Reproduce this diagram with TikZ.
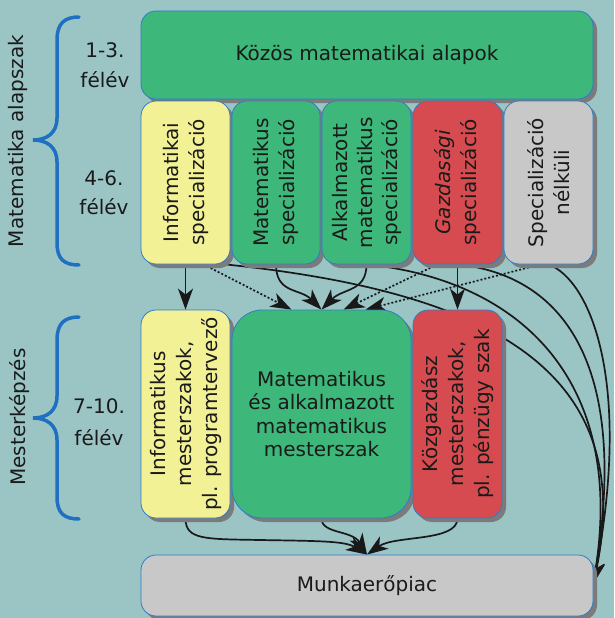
\documentclass[tikz,border=0pt]{standalone}
\usepackage{fontspec}
\setmainfont{DejaVu Sans}
\usetikzlibrary{arrows.meta,shadows}
\definecolor{bgcol}{HTML}{9BC4C5}
\definecolor{cgreen}{HTML}{3DB87A}
\definecolor{cyellow}{HTML}{F3F195}
\definecolor{cred}{HTML}{D64B4F}
\definecolor{cgray}{HTML}{C8C8C8}
\definecolor{shadowgray}{HTML}{7B7B7B}
\definecolor{edgeblue}{HTML}{2F7CC8}
\definecolor{braceblue}{HTML}{1F70C0}
\definecolor{textcol}{HTML}{1A1A1A}
\pgfdeclarelayer{back}
\pgfdeclarelayer{bg}
\pgfsetlayers{back,bg,main}
\begin{document}
\begin{tikzpicture}[x=1pt,y=1pt,
  box/.style={draw=edgeblue, line width=0.8pt, rounded corners=15pt, inner sep=0pt,
    drop shadow={shadow xshift=4pt, shadow yshift=-4pt, fill=shadowgray, opacity=1},
    text=textcol, font=\fontsize{20}{23.5}\selectfont, align=center},
  txt/.style={text=textcol, font=\fontsize{20}{26}\selectfont, align=center, inner sep=0pt},
  conn/.style={line width=1.7pt, draw=black!90, -{Stealth[length=21pt,width=15pt,inset=6pt]}},
  dotconn/.style={conn, dash pattern=on 2pt off 2pt},
  bracepath/.style={draw=braceblue, line width=3.5pt, line cap=round}]
\begin{pgfonlayer}{back}
\fill[bgcol] (0,0) rectangle (614,-618);
\end{pgfonlayer}
\useasboundingbox (0,0) rectangle (614,-618);

% top box
\node[box, fill=cgreen, minimum width=452pt, minimum height=88pt] (kozos) at (367,-55) {Közös matematikai alapok};

% specialisations
\node[box, fill=cyellow, minimum width=89pt, minimum height=163pt] (s1) at (185.5,-182.5) {};
\node[box, fill=cgreen, minimum width=88pt, minimum height=163pt] (s2) at (276,-182.5) {};
\node[box, fill=cgreen, minimum width=89pt, minimum height=163pt] (s3) at (366.5,-182.5) {};
\node[box, fill=cred, minimum width=89pt, minimum height=163pt] (s4) at (457.5,-182.5) {};
\node[box, fill=cgray, minimum width=89pt, minimum height=163pt] (s5) at (548.5,-182.5) {};
\node[txt, rotate=90] (s1t) at (s1) {Informatikai\\specializáció};
\node[txt, rotate=90] (s2t) at (s2) {Matematikus\\specializáció};
\node[txt, rotate=90, font=\fontsize{20}{25}\selectfont] (s3t) at (s3) {Alkalmazott\\matematikus\\specializáció};
\node[txt, rotate=90] (s4t) at (s4) {{\itshape Gazdasági}\\specializáció};
\node[txt, rotate=90] (s5t) at (s5) {Specializáció\\nélküli};

% master programmes
\node[box, fill=cyellow, minimum width=89pt, minimum height=208pt] (m1) at (185.5,-414) {};
\node[box, fill=cgreen, rounded corners=30pt, minimum width=179pt, minimum height=208pt] (m2) at (321.5,-414) {Matematikus\\és alkalmazott\\matematikus\\mesterszak};
\node[box, fill=cred, minimum width=89pt, minimum height=208pt] (m3) at (457.5,-414) {};
\node[txt, rotate=90] (m1t) at (m1) {Informatikus\\mesterszakok,\\pl. programtervező};
\node[txt, rotate=90] (m3t) at (m3) {Közgazdász\\mesterszakok,\\pl. pénzügy szak};

% labour market
\node[box, fill=cgray, minimum width=452pt, minimum height=61pt] (piac) at (367,-585.5) {Munkaerőpiac};

% left labels
\node[txt, anchor=base] (l1a) at (105,-57) {1-3.};
\node[txt, anchor=base] (l1b) at (105,-88) {félév};
\node[txt, anchor=base] (l2a) at (104,-185) {4-6.};
\node[txt, anchor=base] (l2b) at (104,-214) {félév};
\node[txt, anchor=base] (l3a) at (99,-413) {7-10.};
\node[txt, anchor=base] (l3b) at (99,-445) {félév};
\node[txt, rotate=90] (alap) at (18,-141) {Matematika alapszak};
\node[txt, rotate=90] (mester) at (20,-417) {Mesterképzés};

% braces
\draw[bracepath] (79,-17) .. controls (64,-17) and (57,-24) .. (57,-40) -- (57,-118)
  .. controls (57,-133) and (47,-140) .. (33,-140)
  .. controls (47,-140) and (57,-147) .. (57,-162) -- (57,-243)
  .. controls (57,-259) and (64,-265) .. (79,-265);
\draw[bracepath] (79,-317) .. controls (64,-317) and (57,-324) .. (57,-340) -- (57,-396)
  .. controls (57,-411) and (47,-418) .. (33,-418)
  .. controls (47,-418) and (57,-425) .. (57,-440) -- (57,-497)
  .. controls (57,-513) and (64,-519) .. (79,-519);

% connectors
\begin{pgfonlayer}{bg}
\draw[conn] (s1.south) -- (m1.north);
\draw[dotconn] ([xshift=18pt]s1.south) -- ([xshift=-30pt]m2.north);
\draw[conn] (s2.south) .. controls (276,-294) and (300,-288) .. (m2.north);
\draw[conn] (s3.south) .. controls (366.5,-292) and (343,-288) .. (m2.north);
\draw[dotconn] ([xshift=-20pt]s4.south) -- ([xshift=22pt]m2.north);
\draw[dotconn] ([xshift=-8pt]s5.south) -- ([xshift=44pt]m2.north);
\draw[conn] (s4.south) -- (m3.north);
\draw[conn] ([xshift=40pt]s1.south) .. controls (470,-290) and (640,-360) .. ([yshift=2pt]piac.east);
\draw[conn] (s3.south) .. controls (520,-280) and (625,-380) .. ([yshift=2pt]piac.east);
\draw[conn] (s4.south) .. controls (560,-275) and (630,-360) .. ([yshift=2pt]piac.east);
\draw[conn] (s5.south) .. controls (590,-280) and (632,-380) .. ([yshift=2pt]piac.east);
\draw[conn] (m1.south) .. controls (185.5,-540) and (205,-539) .. (260,-540)
  .. controls (320,-541) and (345,-541) .. (piac.north);
\draw[conn] (m2.south) .. controls (321.5,-534) and (352,-530) .. (piac.north);
\draw[conn] (m3.south) .. controls (457.5,-542) and (395,-535) .. (piac.north);
\end{pgfonlayer}
\end{tikzpicture}
\end{document}
